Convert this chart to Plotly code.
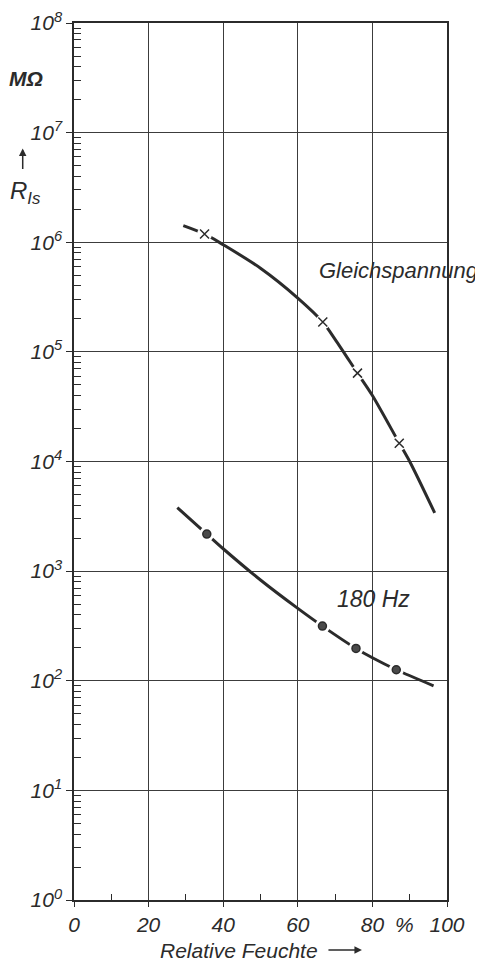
import plotly.graph_objects as go

# Relative humidity in %, insulation resistance in MOhm
dc_curve_x = [29.3, 35.0, 40, 50, 60, 66.7, 70, 76.0, 80, 87.2, 90, 96.7]
dc_curve_y = [1.42e6, 1.19e6, 9.5e5, 5.8e5, 3.1e5, 1.87e5, 1.3e5, 6.4e4, 4.0e4, 1.47e4, 1.0e4, 3.4e3]
dc_points_x = [35.0, 66.7, 76.0, 87.2]
dc_points_y = [1.19e6, 1.87e5, 6.4e4, 1.47e4]

ac_curve_x = [27.7, 35.6, 40, 50, 60, 66.6, 75.6, 80, 86.4, 96.4]
ac_curve_y = [3.8e3, 2.18e3, 1.6e3, 830, 457, 315, 197, 162, 126, 90]
ac_points_x = [35.6, 66.6, 75.6, 86.4]
ac_points_y = [2.18e3, 315, 197, 126]

x_ticks = [0, 20, 40, 60, 80, 100]
x_minor = [10, 30, 50, 70, 90]
y_exponents = list(range(0, 9))

INK = "#2b2b2b"
GRID = "#3c3c3c"
FONT = "Liberation Sans, Arial, sans-serif"
LINE_WIDTH = 3

y_tickvals = [10**k for k in y_exponents]
y_ticktext = [f"10<sup>{k}</sup>" for k in y_exponents]
y_minor = [m * 10**k for k in y_exponents[:-1] for m in range(2, 10)]

fig = go.Figure()

for cx, cy, px, py, symbol, msize in [
    (dc_curve_x, dc_curve_y, dc_points_x, dc_points_y, "x-thin", 9),
    (ac_curve_x, ac_curve_y, ac_points_x, ac_points_y, "circle", 8),
]:
    fig.add_trace(
        go.Scatter(
            x=cx,
            y=cy,
            mode="lines",
            line=dict(color=INK, width=LINE_WIDTH, shape="spline", smoothing=0.8),
            showlegend=False,
            hoverinfo="skip",
        )
    )
    # white halo so the curve is interrupted around each measured point
    fig.add_trace(
        go.Scatter(
            x=px,
            y=py,
            mode="markers",
            marker=dict(symbol="circle", size=15, color="white"),
            showlegend=False,
            hoverinfo="skip",
        )
    )
    fig.add_trace(
        go.Scatter(
            x=px,
            y=py,
            mode="markers",
            marker=dict(
                symbol=symbol,
                size=msize,
                color="#4a4a4a",
                line=dict(color=INK, width=1.5),
            ),
            showlegend=False,
        )
    )

tickfont = dict(family=FONT, size=21, color=INK, style="italic")

# the page body adds an 8px margin, so the figure is 8px smaller than the window
fig.update_layout(
    width=475,
    height=954,
    margin=dict(l=66, r=36, t=15, b=62),
    plot_bgcolor="white",
    paper_bgcolor="white",
    xaxis=dict(
        range=[0, 100],
        tickmode="array",
        tickvals=x_ticks,
        ticktext=[str(v) for v in x_ticks],
        ticks="outside",
        ticklen=5,
        tickcolor=INK,
        tickfont=tickfont,
        showgrid=True,
        gridcolor=GRID,
        gridwidth=1,
        showline=True,
        linecolor=INK,
        linewidth=1.5,
        mirror=True,
        zeroline=False,
        automargin=False,
        minor=dict(tickmode="array", tickvals=x_minor, ticks="inside", ticklen=6,
                   tickcolor=INK, showgrid=False),
        fixedrange=True,
    ),
    yaxis=dict(
        type="log",
        range=[0, 8],
        tickmode="array",
        tickvals=y_tickvals,
        ticktext=y_ticktext,
        ticks="outside",
        ticklen=6,
        tickcolor=INK,
        tickfont=tickfont,
        showgrid=True,
        gridcolor=GRID,
        gridwidth=1,
        showline=True,
        linecolor=INK,
        linewidth=1.5,
        mirror=True,
        zeroline=False,
        automargin=False,
        minor=dict(tickmode="array", tickvals=y_minor, ticks="inside", ticklen=7,
                   tickcolor=INK, showgrid=False),
        fixedrange=True,
    ),
)

label_font = dict(family=FONT, size=22, color=INK, style="italic")

fig.add_annotation(x=65.2, y=5.746, xref="x", yref="y", text="Gleichspannung",
                   showarrow=False, xanchor="left", yanchor="middle", font=label_font)
fig.add_annotation(x=70.0, y=2.749, xref="x", yref="y", text="180 Hz",
                   showarrow=False, xanchor="left", yanchor="middle",
                   font=dict(label_font, size=23))

# percent sign sits between the 80 and 100 tick labels
fig.add_annotation(x=88.5, y=0, xref="x", yref="paper", text="%", showarrow=False,
                   xanchor="center", yanchor="middle", yshift=-24, font=tickfont)

# x-axis title with arrow
fig.add_annotation(x=0.225, y=0, xref="paper", yref="paper", text="Relative Feuchte",
                   showarrow=False, xanchor="left", yanchor="middle", yshift=-50,
                   font=dict(family=FONT, size=21, color=INK, style="italic"))
fig.add_annotation(x=0.772, y=0, xref="paper", yref="paper", text="", yshift=-50,
                   showarrow=True, ax=-35, ay=0, arrowhead=2, arrowsize=1,
                   arrowwidth=1.5, arrowcolor=INK)

# y-axis unit and quantity
fig.add_annotation(x=-0.129, y=0.937, xref="paper", yref="paper", text="<b>MΩ</b>",
                   showarrow=False, xanchor="center", yanchor="middle",
                   font=dict(family=FONT, size=21, color=INK, style="italic"))
fig.add_annotation(x=-0.1375, y=0.857, xref="paper", yref="paper", text="",
                   showarrow=True, ax=0, ay=22, arrowhead=2, arrowsize=1,
                   arrowwidth=1.5, arrowcolor=INK)
fig.add_annotation(x=-0.177, y=0.807, xref="paper", yref="paper", text="R<sub>Is</sub>",
                   showarrow=False, xanchor="left", yanchor="middle",
                   font=dict(family=FONT, size=24, color=INK, style="italic"))

fig.write_html("out.html")
